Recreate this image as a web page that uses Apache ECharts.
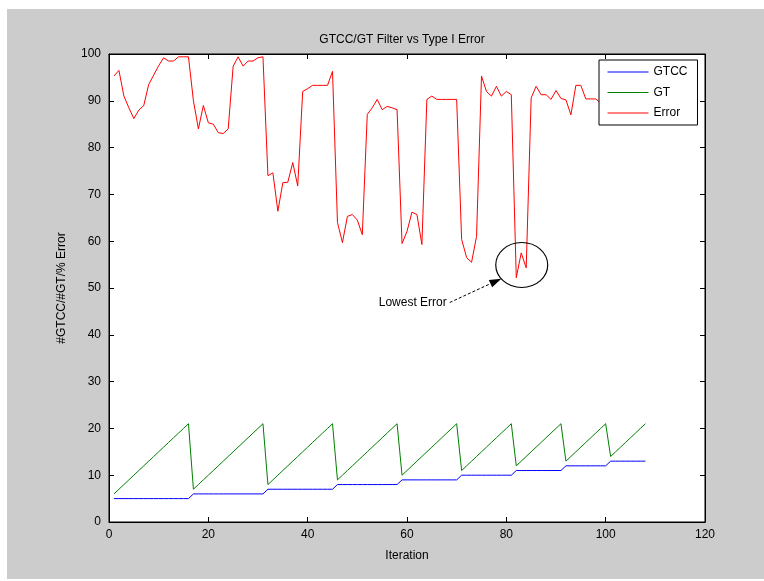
<!DOCTYPE html>
<html>
<head>
<meta charset="utf-8">
<script src="https://cdn.jsdelivr.net/npm/echarts@6/dist/echarts.min.js"></script>
<style>
html,body{margin:0;padding:0;background:#fff;}
#bg{position:absolute;left:7px;top:9px;width:757px;height:570px;background:#cccccc;}
#chart{position:absolute;left:0;top:0;width:764px;height:581px;}
</style>
</head>
<body>
<div id="bg"></div>
<div id="chart"></div>
<script>
// ---- data ----
const iterations = [1,2,3,4,5,6,7,8,9,10,11,12,13,14,15,16,17,18,19,20,21,22,23,24,25,26,27,28,29,30,31,32,33,34,35,36,37,38,39,40,41,42,43,44,45,46,47,48,49,50,51,52,53,54,55,56,57,58,59,60,61,62,63,64,65,66,67,68,69,70,71,72,73,74,75,76,77,78,79,80,81,82,83,84,85,86,87,88,89,90,91,92,93,94,95,96,97,98,99,100,101,102,103,104,105,106,107,108];
const gtcc = [5,5,5,5,5,5,5,5,5,5,5,5,5,5,5,5,
  6,6,6,6,6,6,6,6,6,6,6,6,6,6,6,
  7,7,7,7,7,7,7,7,7,7,7,7,7,7,
  8,8,8,8,8,8,8,8,8,8,8,8,8,
  9,9,9,9,9,9,9,9,9,9,9,9,
  10,10,10,10,10,10,10,10,10,10,10,
  11,11,11,11,11,11,11,11,11,11,
  12,12,12,12,12,12,12,12,12,
  13,13,13,13,13,13,13,13];
const gt = [6,7,8,9,10,11,12,13,14,15,16,17,18,19,20,21,
  7,8,9,10,11,12,13,14,15,16,17,18,19,20,21,
  8,9,10,11,12,13,14,15,16,17,18,19,20,21,
  9,10,11,12,13,14,15,16,17,18,19,20,21,
  10,11,12,13,14,15,16,17,18,19,20,21,
  11,12,13,14,15,16,17,18,19,20,21,
  12,13,14,15,16,17,18,19,20,21,
  13,14,15,16,17,18,19,20,21,
  14,15,16,17,18,19,20,21];
const errorPct = [95.3,96.5,91,88.5,86.2,88,89,93.5,95.5,97.5,99.2,98.5,98.5,99.4,99.4,99.4,
  90,84,89,85.3,85,83.2,83,84,97.4,99.4,97.4,98.5,98.5,99.2,99.4,
  74,74.6,66.4,72.5,72.6,76.8,71.8,92,92.6,93.3,93.3,93.3,93.3,96.3,
  64,59.7,65.3,65.7,64.5,61.4,87.1,88.5,90.3,88.1,88.8,88.5,88.1,
  59.5,62.1,66.2,65.7,59.3,90.3,91,90.3,90.3,90.3,90.3,90.3,
  60.4,56.5,55.5,61,95.3,92,91,93.1,91,92,91.3,
  52.2,57.5,54.3,90.6,93.1,91.3,91.3,90.3,92.2,90.5,
  90.2,87,93.3,93.3,90.4,90.4,90.4,89.5,90,
  90,89.5,90,91,90,90,90,90];
const xTicks = {min:0, max:120, interval:20};
const yTicks = {min:0, max:100, interval:10};
// annotation (data coordinates)
const ellipseCenter = [83.1, 54.9];
const ellipseRadii = [5.23, 4.8];
const arrowTail = [68.6, 46.9];
const arrowTip = [79.0, 52.0];
const annotText = 'Lowest Error';
const annotTextAnchor = [68.0, 46.9];

const FONT = '"Liberation Sans",Arial,sans-serif';

function pairs(xs, ys){ return xs.map((x,i)=>[x, ys[i]]); }

const chart = echarts.init(document.getElementById('chart'), null, {renderer:'canvas'});
const axisCommon = {
  axisLine:{show:true, onZero:false, lineStyle:{color:'#000', width:1}},
  axisTick:{show:true, inside:true, length:5, lineStyle:{color:'#000'}},
  splitLine:{show:false}
};
chart.setOption({
  animation:false,
  backgroundColor:'transparent',
  title:{text:'GTCC/GT Filter vs Type I Error', left:397, top:29, textAlign:'center',
    textStyle:{fontSize:12, fontWeight:'normal', color:'#000', fontFamily:FONT}},
  grid:{left:109, top:54, width:596, height:468, show:true, backgroundColor:'#fff', borderColor:'#000', borderWidth:1},
  legend:{data:['GTCC','GT','Error'], orient:'vertical', left:599, top:60,
    padding:[6,10,6,8], itemWidth:41, itemHeight:12, itemGap:8.5,
    itemStyle:{opacity:0}, lineStyle:{width:1},
    backgroundColor:'#fff', borderColor:'#000', borderWidth:1, borderRadius:0,
    textStyle:{fontSize:12, color:'#000', fontFamily:FONT}},
  xAxis:[
    Object.assign({type:'value', position:'bottom', min:xTicks.min, max:xTicks.max, interval:xTicks.interval,
      name:'Iteration', nameLocation:'middle', nameGap:28,
      nameTextStyle:{fontSize:12, color:'#000', fontFamily:FONT},
      axisLabel:{color:'#000', fontSize:12, margin:7, fontFamily:FONT}}, axisCommon),
    Object.assign({type:'value', position:'top', min:xTicks.min, max:xTicks.max, interval:xTicks.interval,
      axisLabel:{show:false}}, axisCommon)
  ],
  yAxis:[
    Object.assign({type:'value', position:'left', min:yTicks.min, max:yTicks.max, interval:yTicks.interval,
      name:'#GTCC/#GT/% Error', nameLocation:'middle', nameGap:41,
      nameTextStyle:{fontSize:12, color:'#000', fontFamily:FONT},
      axisLabel:{color:'#000', fontSize:12, margin:8, fontFamily:FONT}}, axisCommon),
    Object.assign({type:'value', position:'right', min:yTicks.min, max:yTicks.max, interval:yTicks.interval,
      axisLabel:{show:false}}, axisCommon)
  ],
  series:[
    {name:'GTCC', type:'line', data:pairs(iterations, gtcc), symbol:'none', color:'#0000ff', lineStyle:{width:1, color:'#0000ff'}},
    {name:'GT', type:'line', data:pairs(iterations, gt), symbol:'none', color:'#008000', lineStyle:{width:1, color:'#008000'}},
    {name:'Error', type:'line', data:pairs(iterations, errorPct), symbol:'none', color:'#ff0000', lineStyle:{width:1, color:'#ff0000'}},
    {name:'annot', type:'custom', silent:true, z:5, data:[ellipseCenter],
      renderItem:function(params, api){
        const c = api.coord([api.value(0), api.value(1)]);
        const sz = api.size(ellipseRadii);
        const t0 = api.coord(arrowTail), t1 = api.coord(arrowTip);
        const dx = t1[0]-t0[0], dy = t1[1]-t0[1];
        const len = Math.sqrt(dx*dx+dy*dy);
        const ux = dx/len, uy = dy/len;
        const hl = 12, hw = 4;
        const bx = t1[0]-ux*hl, by = t1[1]-uy*hl;
        const ta = api.coord(annotTextAnchor);
        return {type:'group', children:[
          {type:'circle', x:c[0], y:c[1], scaleX:sz[0]/sz[1], scaleY:1,
            shape:{cx:0, cy:0, r:sz[1]}, style:{fill:'none', stroke:'#000', lineWidth:1, strokeNoScale:true}},
          {type:'line', shape:{x1:t0[0], y1:t0[1], x2:bx, y2:by},
            style:{stroke:'#000', lineWidth:1, lineDash:[3,2]}},
          {type:'polygon', shape:{points:[[t1[0],t1[1]],[bx-uy*hw, by+ux*hw],[bx+uy*hw, by-ux*hw]]},
            style:{fill:'#000'}},
          {type:'text', x:ta[0], y:ta[1], style:{text:annotText, align:'right', verticalAlign:'middle',
            fontSize:12, fontFamily:FONT, fill:'#000'}}
        ]};
      }}
  ]
});
</script>
</body>
</html>
